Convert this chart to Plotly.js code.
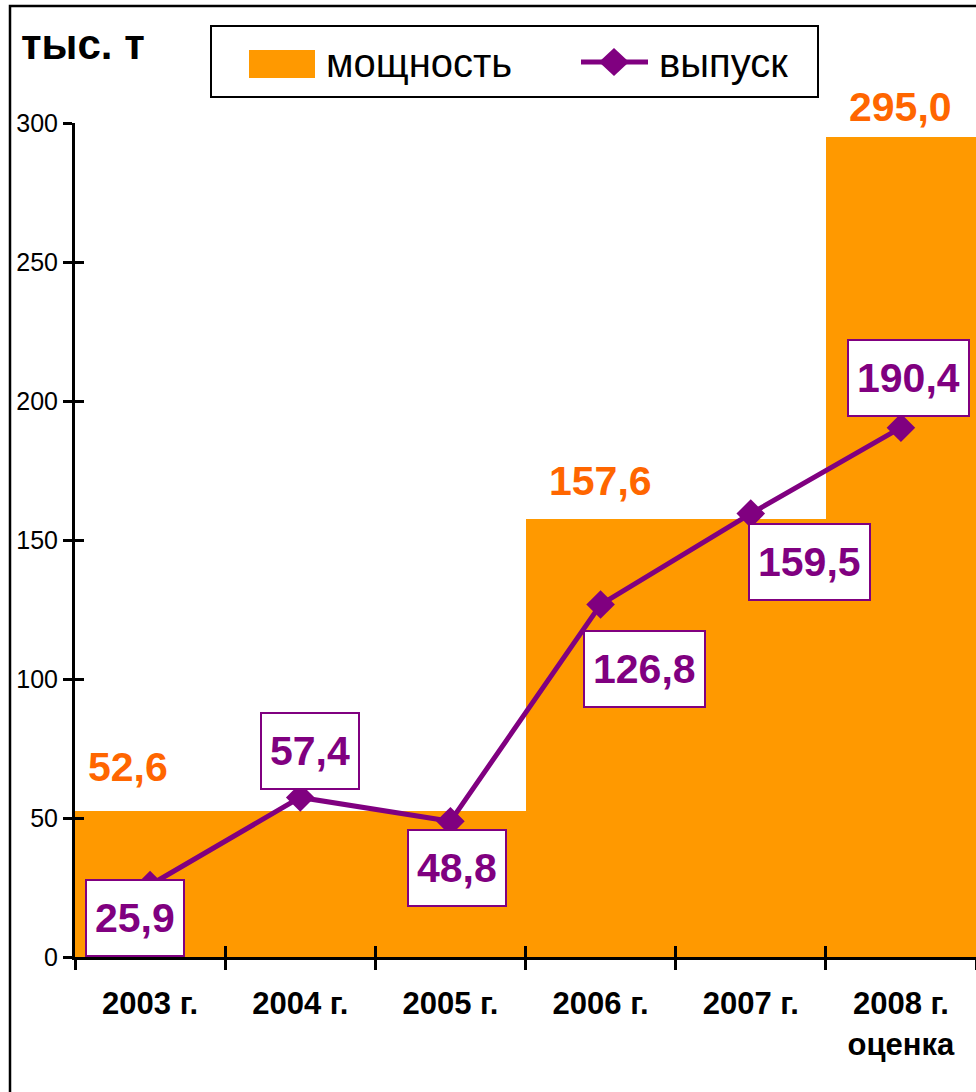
<!DOCTYPE html>
<html>
<head>
<meta charset="utf-8">
<script src="https://cdn.plot.ly/plotly-3.0.1.min.js"></script>
<style>html,body{margin:0;padding:0;background:#fff;}#chart{width:976px;height:1092px;}</style>
</head>
<body>
<div id="chart"></div>
<script>
// ---- data ----
const years = ['2003 г.', '2004 г.', '2005 г.', '2006 г.', '2007 г.', '2008 г.<br>оценка'];
const capacity = [52.6, 52.6, 52.6, 157.6, 157.6, 295.0];
const output = [25.9, 57.4, 48.8, 126.8, 159.5, 190.4];
const capacityLabelIdx = [0, 3, 5];
const yTicks = [0, 50, 100, 150, 200, 250, 300];
const seriesNames = ['мощность', 'выпуск'];
const unitTitle = 'тыс. т';

// ---- styles ----
const FONT = 'Liberation Sans, Arial, sans-serif';
const ORANGE = '#FF9900', ORANGE_TXT = '#FF6600', PURPLE = '#800080';
const W = 976, H = 1092;
const M = {l: 75, r: 0, t: 123, b: 135};
const capShift = [[-22, 44], [0, 38], [0, 30]];
const outShift = [[-14.6, -33], [10, 46], [6.6, -46.7], [44.4, -64], [58.8, -48], [7.6, 50]];

const fmt = v => v.toFixed(1).replace('.', ',');
const pw = W - M.l - M.r, ph = H - M.t - M.b;
const px = x => (x - M.l) / pw;
const py = y => (H - M.b - y) / ph;
const boundaries = years.map((_, i) => i - 0.5).concat([years.length - 0.5]);

const traces = [
  {type: 'bar', x: years, y: capacity, name: seriesNames[0], marker: {color: ORANGE}, hoverinfo: 'skip'},
  {type: 'scatter', mode: 'lines+markers', x: years, y: output, name: seriesNames[1],
   line: {color: PURPLE, width: 5}, marker: {symbol: 'diamond', size: 22, color: PURPLE}, hoverinfo: 'skip'},
  // empty trace so the overlay axes (inner half of the crossing ticks) are drawn
  {type: 'scatter', x: [], y: [], xaxis: 'x2', yaxis: 'y2', hoverinfo: 'skip', showlegend: false}
];

const annotations = [];
capacityLabelIdx.forEach((i, k) => {
  annotations.push({x: years[i], y: capacity[i], xref: 'x', yref: 'y', text: fmt(capacity[i]),
    showarrow: false, xanchor: 'center', yanchor: 'middle', xshift: capShift[k][0], yshift: capShift[k][1],
    font: {family: FONT, size: 41, color: ORANGE_TXT, weight: 'bold'}});
});
output.forEach((v, i) => {
  annotations.push({x: years[i], y: v, xref: 'x', yref: 'y', text: fmt(v),
    showarrow: false, xanchor: 'center', yanchor: 'middle', xshift: outShift[i][0], yshift: outShift[i][1],
    height: 58, bgcolor: '#fff', bordercolor: PURPLE, borderwidth: 2, borderpad: 8,
    font: {family: FONT, size: 41, color: PURPLE, weight: 'bold'}});
});
// unit title
annotations.push({xref: 'paper', yref: 'paper', x: px(19), y: py(45), xanchor: 'left', yanchor: 'middle',
  text: unitTitle, showarrow: false, font: {family: FONT, size: 42, color: '#000', weight: 'bold'}});
// legend texts
annotations.push({xref: 'paper', yref: 'paper', x: px(325), y: py(63), xanchor: 'left', yanchor: 'middle',
  text: seriesNames[0], showarrow: false, borderpad: 0, font: {family: FONT, size: 40, color: '#000'}});
annotations.push({xref: 'paper', yref: 'paper', x: px(658), y: py(63), xanchor: 'left', yanchor: 'middle',
  text: seriesNames[1], showarrow: false, borderpad: 0, font: {family: FONT, size: 40, color: '#000'}});

const shapes = [
  // outer frame
  {type: 'rect', xref: 'paper', yref: 'paper', x0: px(10), x1: px(1200), y0: py(1300), y1: py(6),
   line: {color: '#000', width: 2.5}, fillcolor: 'rgba(0,0,0,0)', layer: 'below'},
  // legend box
  {type: 'rect', xref: 'paper', yref: 'paper', x0: px(211), x1: px(818), y0: py(97), y1: py(26),
   line: {color: '#000', width: 2}, fillcolor: '#fff'},
  {type: 'rect', xref: 'paper', yref: 'paper', x0: px(249), x1: px(315), y0: py(78), y1: py(50),
   line: {width: 0}, fillcolor: ORANGE},
  {type: 'line', xref: 'paper', yref: 'paper', x0: px(581), x1: px(648), y0: py(62), y1: py(62),
   line: {color: PURPLE, width: 5}},
  {type: 'path', xref: 'paper', yref: 'paper',
   path: `M ${px(614)},${py(48)} L ${px(629)},${py(62)} L ${px(614)},${py(76)} L ${px(599)},${py(62)} Z`,
   line: {width: 0}, fillcolor: PURPLE}
];

const layout = {
  width: W, height: H, margin: M, paper_bgcolor: '#fff', plot_bgcolor: 'rgba(0,0,0,0)',
  showlegend: false, bargap: 0,
  xaxis: {type: 'category', range: [-0.5, 5.5], tickson: 'boundaries', ticks: 'outside', ticklen: 10,
    tickwidth: 3, tickcolor: '#000', showline: true, linecolor: '#000', linewidth: 3, showgrid: false,
    zeroline: false, fixedrange: true, tickfont: {family: FONT, size: 31, color: '#000', weight: 'bold'},
    ticklabelstandoff: 17},
  xaxis2: {overlaying: 'x', range: [-0.5, 5.5], tickmode: 'array', tickvals: boundaries,
    ticks: 'inside', ticklen: 11, tickwidth: 3, tickcolor: '#000', showticklabels: false, showline: false,
    showgrid: false, zeroline: false, anchor: 'y2', side: 'bottom', fixedrange: true},
  yaxis: {range: [0, 300], tickmode: 'array', tickvals: yTicks, ticktext: yTicks.map(String), ticks: 'outside',
    ticklen: 9, tickwidth: 3, tickcolor: '#000', showline: true, linecolor: '#000', linewidth: 3,
    showgrid: false, zeroline: false, fixedrange: true, tickfont: {family: FONT, size: 25, color: '#000'}},
  yaxis2: {overlaying: 'y', range: [0, 300], tickmode: 'array', tickvals: yTicks, ticks: 'inside', ticklen: 9,
    tickwidth: 3, tickcolor: '#000', showticklabels: false, showline: false, showgrid: false, zeroline: false,
    anchor: 'x2', side: 'left', fixedrange: true},
  annotations: annotations, shapes: shapes
};

Plotly.newPlot('chart', traces, layout, {displayModeBar: false, staticPlot: true});
</script>
</body>
</html>
